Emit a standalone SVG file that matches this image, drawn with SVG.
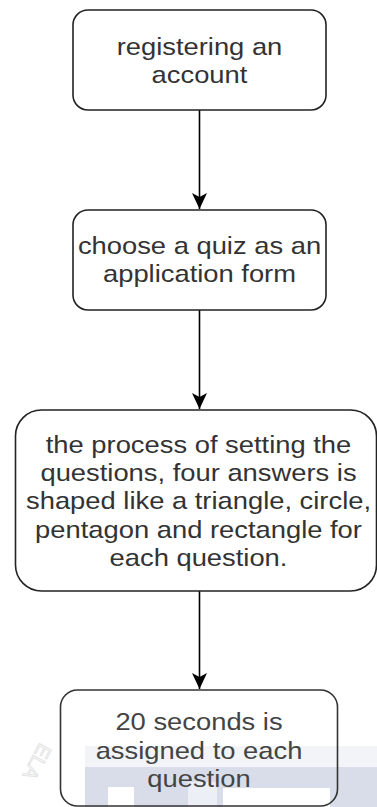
<svg xmlns="http://www.w3.org/2000/svg" width="377" height="807" viewBox="0 0 377 807">
<style>
.box{fill:none;stroke:#222;stroke-width:1.6}
.t{font-family:"Liberation Sans",Arial,sans-serif;font-size:24px;fill:#333;text-anchor:middle}
.t4{fill:#444}
.edge{stroke:#000;stroke-width:1.6;fill:none}
</style>
<defs>
<marker id="arr" markerUnits="userSpaceOnUse" markerWidth="16" markerHeight="15" refX="16" refY="7.5" orient="auto" viewBox="0 0 16 15">
<path d="M0,0 L16,7.5 L0,15 L4,7.5 Z" fill="#000"/>
</marker>
</defs>
<rect width="377" height="807" fill="#fff"/>
<g id="watermark">
<rect x="85" y="746" width="292" height="21" fill="#f2f4f8"/>
<rect x="85" y="767" width="292" height="40" fill="#d9dde9"/>
<rect x="108" y="787" width="26" height="20" fill="#fff"/>
<rect x="188" y="782" width="29" height="25" fill="#eceff6"/>
<rect x="223" y="788" width="107" height="19" fill="#fff"/>
<text x="0" y="0" transform="translate(40,742) rotate(118)" font-family="Liberation Sans,Arial,sans-serif" font-size="20" fill="none" stroke="#e4e4e4" stroke-width="1">ELA</text>
</g>
<g id="connectors">
<line class="edge" x1="199.5" y1="110" x2="199.5" y2="209" marker-end="url(#arr)"/>
<line class="edge" x1="199.5" y1="310" x2="199.5" y2="409" marker-end="url(#arr)"/>
<line class="edge" x1="199.5" y1="591" x2="199.5" y2="689" marker-end="url(#arr)"/>
</g>
<g id="n1">
<rect class="box" x="73" y="10" width="253" height="100" rx="15" fill="#fff"/>
<g transform="translate(199.5,0) scale(1.14,1)">
<text class="t" x="0" y="55">registering an</text>
<text class="t" x="0" y="83">account</text>
</g>
</g>
<g id="n2">
<rect class="box" x="73" y="210" width="253" height="100" rx="15"/>
<g transform="translate(199.5,0) scale(1.14,1)">
<text class="t" x="0" y="254">choose a quiz as an</text>
<text class="t" x="0" y="282">application form</text>
</g>
</g>
<g id="n3">
<rect class="box" x="15.5" y="410" width="361" height="181" rx="26"/>
<g transform="translate(198.5,0) scale(1.14,1)">
<text class="t" x="0" y="453">the process of setting the</text>
<text class="t" x="0" y="481">questions, four answers is</text>
<text class="t" x="0" y="509.5">shaped like a triangle, circle,</text>
<text class="t" x="0" y="538">pentagon and rectangle for</text>
<text class="t" x="0" y="566">each question.</text>
</g>
</g>
<g id="n4">
<rect class="box" x="60.5" y="690" width="277" height="116" rx="17" style="stroke:#333"/>
<g transform="translate(199,0) scale(1.14,1)">
<text class="t t4" x="0" y="730">20 seconds is</text>
<text class="t t4" x="0" y="759">assigned to each</text>
<text class="t t4" x="0" y="787">question</text>
</g>
</g>
</svg>
